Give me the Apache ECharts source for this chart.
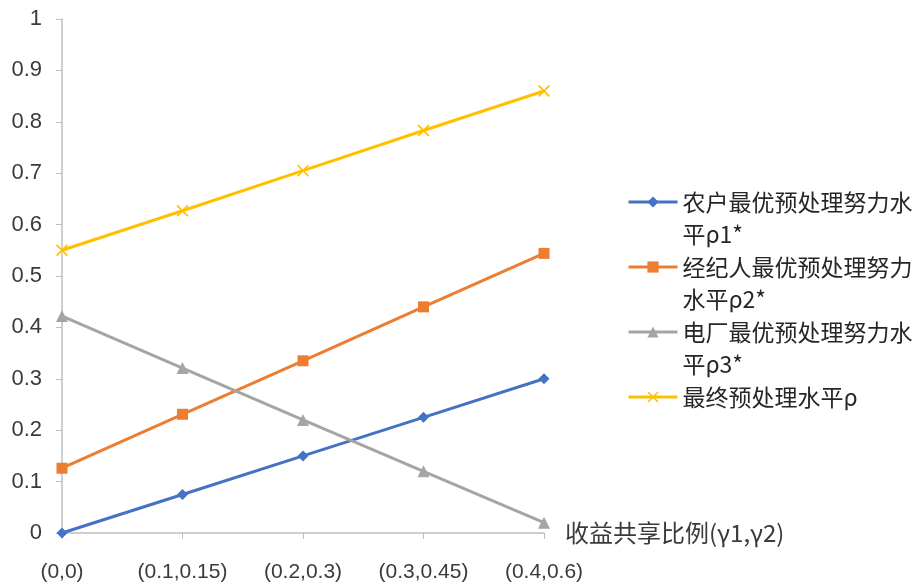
<!DOCTYPE html>
<html>
<head>
<meta charset="utf-8">
<script src="https://cdn.jsdelivr.net/npm/echarts@6/dist/echarts.min.js"></script>
<style>
html,body{margin:0;padding:0;background:#fff;}
#chart{width:920px;height:585px;}
</style>
</head>
<body>
<div id="chart"></div>
<script>
// 收益共享比例 categories
const categories = ['(0,0)', '(0.1,0.15)', '(0.2,0.3)', '(0.3,0.45)', '(0.4,0.6)'];
// series values
const farmerEffort = [0, 0.075, 0.15, 0.225, 0.3];
const brokerEffort = [0.126, 0.231, 0.335, 0.44, 0.544];
const plantEffort = [0.422, 0.321, 0.22, 0.12, 0.02];
const finalLevel = [0.55, 0.627, 0.705, 0.783, 0.86];
const seriesNames = ['农户最优预处理努力水平ρ1*', '经纪人最优预处理努力水平ρ2*', '电厂最优预处理努力水平ρ3*', '最终预处理水平ρ'];
const axisName = '收益共享比例(γ1,γ2)';

const FONT = '"Liberation Sans", "Noto Sans CJK SC", sans-serif';
const CJK = '"Noto Sans CJK SC", "Liberation Sans", sans-serif';
const TEXT = '#3a3a3a';
const AXIS = '#BFBFBF';
const crossPath = 'path://M0,1L1,0L5,4L9,0L10,1L6,5L10,9L9,10L5,6L1,10L0,9L4,5Z';
const LEGEND_CHARS_PER_LINE = 10;

function lineSeries(name, data, color, symbol, size) {
  return {
    name: name,
    type: 'line',
    data: data,
    symbol: symbol,
    symbolSize: size,
    showAllSymbol: true,
    lineStyle: { color: color, width: 3 },
    itemStyle: { color: color },
    emphasis: { disabled: true },
    z: 3
  };
}

const chart = echarts.init(document.getElementById('chart'), null, { renderer: 'canvas' });
chart.setOption({
  animation: false,
  backgroundColor: '#ffffff',
  textStyle: { fontFamily: FONT },
  grid: { left: 62, right: 376, top: 19, bottom: 52, containLabel: false },
  legend: {
    orient: 'vertical',
    left: 622,
    top: 149,
    itemWidth: 49,
    itemHeight: 14,
    itemGap: -31,
    selectedMode: false,
    lineStyle: { width: 3 },
    // every entry is padded to three lines so the marker sits level with the first text line
    formatter: function (name) {
      return name.length <= LEGEND_CHARS_PER_LINE ? '\n' + name + '\n ' : '\n' + name;
    },
    textStyle: {
      fontFamily: CJK,
      fontSize: 23,
      color: '#262626',
      width: 236,
      overflow: 'break',
      lineHeight: 32
    },
    data: seriesNames
  },
  xAxis: {
    type: 'category',
    data: categories,
    boundaryGap: false,
    name: axisName,
    nameLocation: 'end',
    nameGap: 21,
    nameTextStyle: { fontFamily: CJK, fontSize: 24, color: TEXT, verticalAlign: 'middle' },
    axisLine: { lineStyle: { color: AXIS, width: 1.5 } },
    axisTick: { show: true, inside: false, length: 6, alignWithLabel: true, lineStyle: { color: AXIS } },
    axisLabel: { fontFamily: FONT, fontSize: 21, color: TEXT, margin: 29 },
    splitLine: { show: false }
  },
  yAxis: {
    type: 'value',
    min: 0,
    max: 1,
    interval: 0.1,
    axisLine: { show: true, lineStyle: { color: AXIS, width: 1.5 } },
    axisTick: { show: true, length: 6, lineStyle: { color: AXIS } },
    axisLabel: { fontFamily: FONT, fontSize: 22, color: TEXT, margin: 20 },
    splitLine: { show: false }
  },
  series: [
    lineSeries(seriesNames[0], farmerEffort, '#4472C4', 'diamond', 11),
    lineSeries(seriesNames[1], brokerEffort, '#ED7D31', 'rect', 11),
    lineSeries(seriesNames[2], plantEffort, '#A5A5A5', 'triangle', 12),
    lineSeries(seriesNames[3], finalLevel, '#FFC000', crossPath, 12)
  ]
});
</script>
</body>
</html>
